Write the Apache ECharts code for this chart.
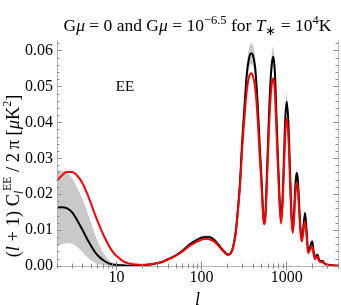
<!DOCTYPE html>
<html><head><meta charset="utf-8">
<script src="https://cdn.jsdelivr.net/npm/echarts@6/dist/echarts.min.js"></script>
<style>html,body{margin:0;padding:0;background:#fff}#c{width:341px;height:305px}</style>
</head><body><div id="c"></div>
<script>
// multipole l
const ells = [
  2, 2.3, 2.6, 3, 3.5, 4, 4.5, 5, 5.5, 6,
  7, 8, 9, 10, 12, 14, 17, 20, 25, 30,
  35, 42, 50, 60, 72, 85, 95, 105, 115, 125,
  137, 150, 165, 185, 205, 220, 235, 250, 265, 282,
  300, 320, 340, 360, 381, 400, 424, 445, 463, 485,
  508, 525, 541, 560, 582, 610, 637, 665, 695, 725,
  762, 810, 857, 890, 929, 965, 1000, 1045, 1094, 1135,
  1175, 1215, 1253, 1290, 1322, 1365, 1407, 1455, 1500, 1570,
  1641, 1720, 1795, 1890, 1985, 2070, 2155, 2220, 2292, 2380,
  2466, 2540, 2624, 2800, 2958, 3200, 3539, 4000
];
// G mu = 0 (black)
const blackEE = [
  0.0163, 0.0164, 0.0161, 0.0150, 0.0125, 0.0100, 0.0076, 0.0057, 0.0041, 0.0030,
  0.0016, 0.0008, 0.0004, 0.0003, 0.0002, 0.0001, 0.0001, 0.0002, 0.0004, 0.0008,
  0.0012, 0.0021, 0.0030, 0.0043, 0.0060, 0.0071, 0.0077, 0.0080, 0.0081, 0.0080,
  0.0075, 0.0066, 0.0054, 0.0040, 0.0032, 0.0036, 0.0055, 0.0090, 0.0150, 0.0231,
  0.0350, 0.0450, 0.0537, 0.0578, 0.0593, 0.0588, 0.0556, 0.0490, 0.0417, 0.0320,
  0.0231, 0.0160, 0.0120, 0.0140, 0.0240, 0.0380, 0.0491, 0.0560, 0.0583, 0.0540,
  0.0398, 0.0230, 0.0125, 0.0180, 0.0305, 0.0420, 0.0458, 0.0400, 0.0259, 0.0150,
  0.0097, 0.0140, 0.0210, 0.0250, 0.0259, 0.0220, 0.0160, 0.0100, 0.0074, 0.0110,
  0.0148, 0.0090, 0.0041, 0.0055, 0.0069, 0.0040, 0.0023, 0.0028, 0.0032, 0.0020,
  0.0013, 0.0014, 0.0014, 0.0007, 0.0004, 0.0003, 0.0002, 0.0001
];
// G mu = 10^-6.5 (red)
const redEE = [
  0.0238, 0.0253, 0.0262, 0.0262, 0.0250, 0.0230, 0.0203, 0.0175, 0.0148, 0.0125,
  0.0087, 0.0060, 0.0040, 0.0028, 0.0013, 0.0007, 0.0004, 0.0003, 0.0005, 0.0008,
  0.0012, 0.0020, 0.0029, 0.0041, 0.0056, 0.0066, 0.0071, 0.0075, 0.0076, 0.0074,
  0.0070, 0.0062, 0.0051, 0.0038, 0.0031, 0.0035, 0.0053, 0.0087, 0.0145, 0.0222,
  0.0330, 0.0420, 0.0491, 0.0526, 0.0537, 0.0530, 0.0500, 0.0445, 0.0380, 0.0295,
  0.0215, 0.0150, 0.0116, 0.0132, 0.0220, 0.0345, 0.0445, 0.0505, 0.0523, 0.0485,
  0.0360, 0.0210, 0.0118, 0.0165, 0.0280, 0.0380, 0.0412, 0.0360, 0.0235, 0.0138,
  0.0092, 0.0128, 0.0190, 0.0225, 0.0231, 0.0195, 0.0142, 0.0090, 0.0068, 0.0098,
  0.0125, 0.0078, 0.0036, 0.0046, 0.0055, 0.0032, 0.0019, 0.0024, 0.0026, 0.0016,
  0.0011, 0.0012, 0.0011, 0.0006, 0.0004, 0.0002, 0.0001, 0.0001
];
// gray band (lower / upper)
const bandLow = [
  0.0056, 0.0061, 0.0064, 0.0062, 0.0052, 0.0038, 0.0025, 0.0016, 0.0010, 0.0006,
  0.0002, 0.0001, 0.0000, 0.0000, 0.0000, 0.0001, 0.0001, 0.0002, 0.0004, 0.0007,
  0.0011, 0.0019, 0.0028, 0.0040, 0.0056, 0.0067, 0.0073, 0.0076, 0.0077, 0.0076,
  0.0071, 0.0063, 0.0051, 0.0038, 0.0030, 0.0034, 0.0052, 0.0085, 0.0142, 0.0219,
  0.0332, 0.0427, 0.0510, 0.0549, 0.0563, 0.0559, 0.0528, 0.0465, 0.0396, 0.0304,
  0.0219, 0.0152, 0.0114, 0.0133, 0.0228, 0.0361, 0.0466, 0.0532, 0.0554, 0.0513,
  0.0378, 0.0218, 0.0119, 0.0171, 0.0290, 0.0399, 0.0435, 0.0380, 0.0246, 0.0142,
  0.0092, 0.0133, 0.0200, 0.0238, 0.0246, 0.0209, 0.0152, 0.0095, 0.0070, 0.0104,
  0.0141, 0.0086, 0.0039, 0.0052, 0.0066, 0.0038, 0.0022, 0.0027, 0.0030, 0.0019,
  0.0012, 0.0013, 0.0013, 0.0007, 0.0004, 0.0003, 0.0002, 0.0001
];
const bandHigh = [
  0.0266, 0.0265, 0.0260, 0.0245, 0.0215, 0.0185, 0.0153, 0.0122, 0.0093, 0.0070,
  0.0037, 0.0018, 0.0009, 0.0005, 0.0003, 0.0002, 0.0002, 0.0003, 0.0005, 0.0009,
  0.0013, 0.0023, 0.0032, 0.0046, 0.0064, 0.0075, 0.0081, 0.0084, 0.0085, 0.0084,
  0.0079, 0.0069, 0.0057, 0.0042, 0.0034, 0.0038, 0.0058, 0.0095, 0.0158, 0.0243,
  0.0368, 0.0473, 0.0564, 0.0607, 0.0622, 0.0617, 0.0584, 0.0515, 0.0438, 0.0336,
  0.0243, 0.0168, 0.0126, 0.0147, 0.0252, 0.0399, 0.0515, 0.0588, 0.0612, 0.0567,
  0.0418, 0.0242, 0.0131, 0.0189, 0.0320, 0.0441, 0.0481, 0.0420, 0.0272, 0.0158,
  0.0102, 0.0147, 0.0221, 0.0263, 0.0272, 0.0231, 0.0168, 0.0105, 0.0078, 0.0116,
  0.0155, 0.0095, 0.0043, 0.0058, 0.0072, 0.0042, 0.0024, 0.0029, 0.0034, 0.0021,
  0.0014, 0.0015, 0.0015, 0.0007, 0.0004, 0.0003, 0.0002, 0.0001
];
const xMajorTicks = [10, 100, 1000];
const xMinorTicks = [2,3,4,5,6,7,8,9,20,30,40,50,60,70,80,90,200,300,400,500,600,700,800,900,2000,3000,4000];
const yMajorTicks = [0, 0.01, 0.02, 0.03, 0.04, 0.05, 0.06];
const yMinorTicks = [0.002,0.004,0.006,0.008,0.012,0.014,0.016,0.018,0.022,0.024,0.026,0.028,0.032,0.034,0.036,0.038,0.042,0.044,0.046,0.048,0.052,0.054,0.056,0.058,0.062];

const SERIF = 'Liberation Serif';
const frameColor = '#b4b4b4';
const tickColor = '#8a8a8a';
const X_MIN = 2, X_MAX = 4000, Y_MIN = 0, Y_MAX = 0.0627;

function xAx(pos, ticks, len, withLine, withLabel) {
  return {
    type: 'log', logBase: 10, min: X_MIN, max: X_MAX, position: pos, z: 10,
    axisLine: { show: withLine, lineStyle: { color: frameColor, width: 1 } },
    axisTick: { show: true, inside: true, length: len, customValues: ticks, lineStyle: { color: tickColor, width: 1 } },
    axisLabel: withLabel ? { show: true, customValues: ticks, color: '#000', fontFamily: SERIF, fontSize: 16, margin: 4,
      formatter: v => String(Math.round(v)) } : { show: false },
    splitLine: { show: false }, minorTick: { show: false }
  };
}
function yAx(pos, ticks, len, withLine, withLabel) {
  return {
    type: 'value', min: Y_MIN, max: Y_MAX, position: pos, z: 10,
    axisLine: { show: withLine, lineStyle: { color: frameColor, width: 1 } },
    axisTick: { show: true, inside: true, length: len, customValues: ticks, lineStyle: { color: tickColor, width: 1 } },
    axisLabel: withLabel ? { show: true, customValues: ticks, color: '#000', fontFamily: SERIF, fontSize: 16, margin: 4,
      formatter: v => v.toFixed(2) } : { show: false },
    splitLine: { show: false }, minorTick: { show: false }
  };
}

const xAxes = [
  xAx('bottom', xMajorTicks, 4.5, true, true),
  xAx('bottom', xMinorTicks, 2.5, false, false),
  xAx('top', xMajorTicks, 4.5, true, false),
  xAx('top', xMinorTicks, 2.5, false, false)
];
xAxes[0].name = 'l';
xAxes[0].nameLocation = 'middle';
xAxes[0].nameGap = 16;
xAxes[0].nameTextStyle = { fontFamily: SERIF, fontStyle: 'italic', fontSize: 18, color: '#000', verticalAlign: 'top' };

const yAxes = [
  yAx('left', yMajorTicks, 4.5, true, true),
  yAx('left', yMinorTicks, 2.5, false, false),
  yAx('right', yMajorTicks, 4.5, true, false),
  yAx('right', yMinorTicks, 2.5, false, false)
];

const pairs = vals => ells.map((l, i) => [l, vals[i]]);
const SM = 0.35;

function renderBand(params, api) {
  if (params.dataIndex !== 0) return null;
  const pts = [];
  for (let i = 0; i < ells.length; i++) pts.push(api.coord([ells[i], bandHigh[i]]));
  for (let i = ells.length - 1; i >= 0; i--) pts.push(api.coord([ells[i], bandLow[i]]));
  return {
    type: 'polygon',
    shape: { points: pts, smooth: 0.25 },
    style: { fill: '#c9c9c9', stroke: null }
  };
}

const TS = '\u2009';
const chart = echarts.init(document.getElementById('c'), null, { renderer: 'canvas' });
chart.setOption({
  animation: false,
  backgroundColor: '#fff',
  grid: { left: 57, right: 3, top: 41, bottom: 39, containLabel: false, outerBoundsMode: 'none' },
  xAxis: xAxes,
  yAxis: yAxes,
  series: [
    { type: 'custom', data: [[ells[0], bandLow[0]]], renderItem: renderBand, clip: true, silent: true, z: 1,
      xAxisIndex: 0, yAxisIndex: 0 },
    { type: 'line', data: pairs(blackEE), symbol: 'none', smooth: SM,
      lineStyle: { color: '#000', width: 2 }, z: 3 },
    { type: 'line', data: pairs(redEE), symbol: 'none', smooth: SM,
      lineStyle: { color: '#f00', width: 2 }, z: 4 }
  ],
  graphic: [
    { type: 'text', x: 197.5, y: 14.5, z: 10,
      style: {
        text: '{n|G}{i|μ}{n| = 0 and G}{i|μ}{n| = 10}{sup|−6.5}{n| for }{i|T}{sub|∗}{n| = 10}{sup|4}{n|K}',
        align: 'center', verticalAlign: 'top',
        rich: {
          n: { fontFamily: SERIF, fontSize: 17.5, lineHeight: 24, fill: '#000' },
          i: { fontFamily: SERIF, fontSize: 17.5, lineHeight: 24, fontStyle: 'italic', fill: '#000' },
          sup: { fontFamily: SERIF, fontSize: 12.5, lineHeight: 11, verticalAlign: 'top', fill: '#000' },
          sub: { fontFamily: SERIF, fontSize: 12.5, lineHeight: 11, verticalAlign: 'bottom', fill: '#000' }
        }
      } },
    { type: 'text', x: 125, y: 87, z: 10,
      style: { text: 'EE', font: '15px "Liberation Serif"', fill: '#000', align: 'center', verticalAlign: 'middle' } },
    { type: 'text', x: 14, y: 176, rotation: Math.PI / 2, z: 10,
      style: {
        text: '{n|(}{i|l}{n| + 1) C}{sub|l}{sup|EE}{n| / 2' + TS + 'π [}{i|μ}{n|K}{sup|2}{n|]}',
        align: 'center', verticalAlign: 'middle',
        rich: {
          n: { fontFamily: SERIF, fontSize: 18.5, lineHeight: 24, fill: '#000' },
          i: { fontFamily: SERIF, fontSize: 18.5, lineHeight: 24, fontStyle: 'italic', fill: '#000' },
          sup: { fontFamily: SERIF, fontSize: 11.5, lineHeight: 11, verticalAlign: 'top', fill: '#000' },
          sub: { fontFamily: SERIF, fontSize: 11.5, lineHeight: 11, verticalAlign: 'bottom', fontStyle: 'italic', fill: '#000' }
        }
      } }
  ]
});
</script>
</body></html>
